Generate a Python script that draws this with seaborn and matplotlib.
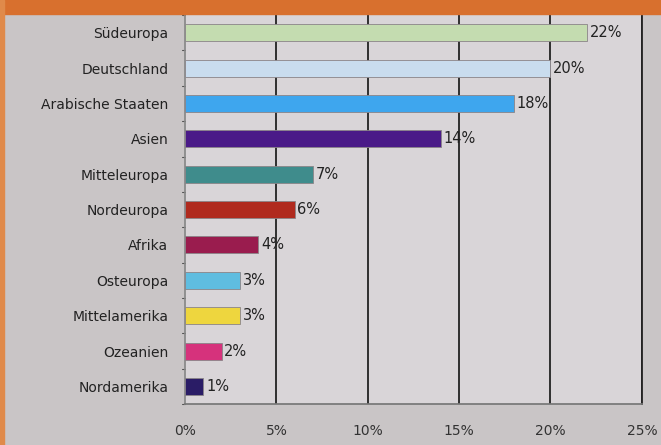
import matplotlib
matplotlib.use("Agg")
import matplotlib.pyplot as plt
import seaborn as sns
import pandas as pd
from matplotlib.patches import Rectangle

regions = ["Südeuropa", "Deutschland", "Arabische Staaten", "Asien", "Mitteleuropa",
           "Nordeuropa", "Afrika", "Osteuropa", "Mittelamerika", "Ozeanien", "Nordamerika"]
shares = [22, 20, 18, 14, 7, 6, 4, 3, 3, 2, 1]
value_labels = ["22%", "20%", "18%", "14%", "7%", "6%", "4%", "3%", "3%", "2%", "1%"]
x_ticks = [0, 5, 10, 15, 20, 25]
x_ticklabels = ["0%", "5%", "10%", "15%", "20%", "25%"]

colors = ["#c4dcb0", "#c9dcee", "#3ea6ee", "#4a1a88", "#3f8c8c", "#b02a1e",
          "#9a1c4e", "#5fbde0", "#eed63e", "#d6327c", "#2a1c66"]

sns.set_theme(style="white")
plt.rcParams['font.family'] = ['DejaVu Sans']

df = pd.DataFrame({"region": regions, "share": shares})

fig = plt.figure(figsize=(6.61, 4.45), dpi=100)
fig.patch.set_facecolor("#c9c5c6")
# orange header band and left border
fig.patches.append(Rectangle((0, 0.968), 1, 0.032, transform=fig.transFigure,
                             color="#d8702e", zorder=0))
fig.patches.append(Rectangle((0, 0), 0.006, 1, transform=fig.transFigure,
                             color="#e08a4a", zorder=0))

ax = fig.add_axes([0.280, 0.092, 0.691, 0.874])
ax.set_facecolor("#d9d5d8")

sns.barplot(data=df, y="region", x="share", hue="region", palette=colors,
            legend=False, orient="h", width=0.48, ax=ax, saturation=1,
            edgecolor="#8a8488", linewidth=0.6, zorder=3)

for i, (v, lab) in enumerate(zip(shares, value_labels)):
    ax.text(v + 0.15, i, lab, va="center", ha="left", fontsize=10.5, color="#222222", zorder=4)

ax.set_xlim(0, 25)
ax.set_ylim(len(regions) - 0.5, -0.5)
ax.set_xticks(x_ticks)
ax.set_xticklabels(x_ticklabels, fontsize=10, color="#333333")
ax.tick_params(axis="y", labelsize=10, labelcolor="#222222", length=0, pad=12)
ax.tick_params(axis="x", length=0, pad=14)
ax.set_xlabel("")
ax.set_ylabel("")

for xv in x_ticks[1:]:
    ax.axvline(xv, color="#222222", lw=1.3, zorder=2)

# small tick marks between categories on the left axis
for k in range(len(regions) + 1):
    ax.plot([-0.15, 0], [k - 0.5, k - 0.5], color="#555555", lw=0.8, clip_on=False, zorder=2)

ax.spines["top"].set_visible(False)
ax.spines["left"].set_color("#888888")
ax.spines["bottom"].set_color("#777777")
ax.spines["right"].set_color("#222222")
ax.spines["right"].set_linewidth(1.3)

fig.savefig("out.png", dpi=100, facecolor=fig.get_facecolor())
